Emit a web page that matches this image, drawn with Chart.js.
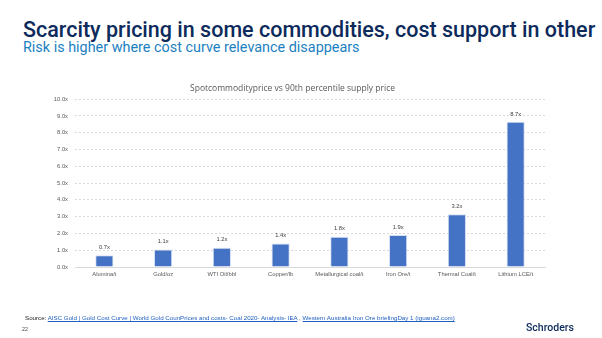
<!DOCTYPE html>
<html>
<head>
<meta charset="utf-8">
<script src="https://cdn.jsdelivr.net/npm/chart.js@4"></script>
<style>
  html, body { margin: 0; padding: 0; background: #fff; }
  body { width: 602px; height: 338px; position: relative; overflow: hidden; font-family: Roboto, "Open Sans", sans-serif; }
  #chart { position: absolute; left: 0; top: 0; }
  .title { position: absolute; left: 23px; top: 17px; font-size: 21.5px; font-weight: 500; color: #0c2a5b; white-space: nowrap; }
  .subtitle { position: absolute; left: 23px; top: 39px; font-size: 14.4px; color: #1b7fc1; white-space: nowrap; }
  .source { position: absolute; left: 25px; top: 314px; font-size: 6.2px; color: #222; white-space: nowrap; font-family: "Liberation Sans", sans-serif; }
  .source a { color: #1f5fbf; text-decoration: underline; }
  .page { position: absolute; left: 22px; top: 326px; font-size: 5.4px; color: #444; font-family: "Liberation Sans", sans-serif; }
  .logo { position: absolute; left: 526px; top: 321px; font-size: 10.5px; font-weight: 500; color: #0c2a5b; }
</style>
</head>
<body>
<div class="title">Scarcity pricing in some commodities, cost support in other</div>
<div class="subtitle">Risk is higher where cost curve relevance disappears</div>
<canvas id="chart" width="602" height="338"></canvas>
<div class="source">Source: <a>AISC Gold | Gold Cost Curve | World Gold Coun</a><a>Prices and costs- Coal 2020- Analysis- IEA</a> , <a>Western Australia Iron Ore briefing</a><a>Day 1 (iguana2.com)</a></div>
<div class="page">22</div>
<div class="logo">Schroders</div>
<script>
const categories = ["Alumina/t", "Gold/oz", "WTI Oil/bbl", "Copper/lb", "Metallurgical coal/t", "Iron Ore/t", "Thermal Coal/t", "Lithium LCE/t"]
const ratios = [0.7, 1.05, 1.15, 1.4, 1.8, 1.9, 3.15, 8.65]
const ratioLabels = ["0.7x", "1.1x", "1.2x", "1.4x", "1.8x", "1.9x", "3.2x", "8.7x"]

// draw the value labels above each bar
const barLabels = {
  id: "barLabels",
  afterDatasetsDraw(chart) {
    const ctx = chart.ctx
    const meta = chart.getDatasetMeta(0)
    ctx.save()
    ctx.font = "5.8px 'Liberation Sans', sans-serif"
    ctx.fillStyle = "#404040"
    ctx.textAlign = "center"
    ctx.textBaseline = "bottom"
    meta.data.forEach((bar, i) => {
      ctx.fillText(ratioLabels[i], bar.x, bar.y - 5)
    })
    ctx.restore()
  }
}

new Chart(document.getElementById("chart"), {
  type: "bar",
  data: {
    labels: categories,
    datasets: [{
      data: ratios,
      backgroundColor: "#4472c4",
      borderColor: "#d6e0f2",
      borderWidth: 1,
      categoryPercentage: 1,
      barPercentage: 0.31
    }]
  },
  options: {
    responsive: false,
    animation: false,
    layout: { padding: { left: 40, right: 57, top: 83, bottom: 59 } },
    plugins: {
      legend: { display: false },
      tooltip: { enabled: false },
      title: {
        display: true,
        text: "Spotcommodityprice vs 90th percentile supply price",
        color: "#595959",
        font: { family: "'Open Sans', sans-serif", size: 8.5, weight: "normal" },
        padding: { top: 0, bottom: 6 }
      }
    },
    scales: {
      x: {
        grid: { display: false, drawTicks: false },
        border: { color: "#d9d9d9" },
        ticks: { color: "#595959", font: { family: "'Liberation Sans', sans-serif", size: 5.8 }, padding: 4, maxRotation: 0, autoSkip: false },
        afterFit(axis) { axis.height = 12 }
      },
      y: {
        min: 0,
        max: 10,
        grid: { color: "#d9d9d9", drawTicks: false },
        border: { display: false, dash: [2, 2] },
        ticks: {
          stepSize: 1,
          color: "#595959",
          padding: 7,
          font: { family: "'Liberation Sans', sans-serif", size: 5.8 },
          callback: v => v.toFixed(1) + "x"
        },
        afterFit(axis) { axis.width = 35 }
      }
    }
  },
  plugins: [barLabels]
})
</script>
</body>
</html>
